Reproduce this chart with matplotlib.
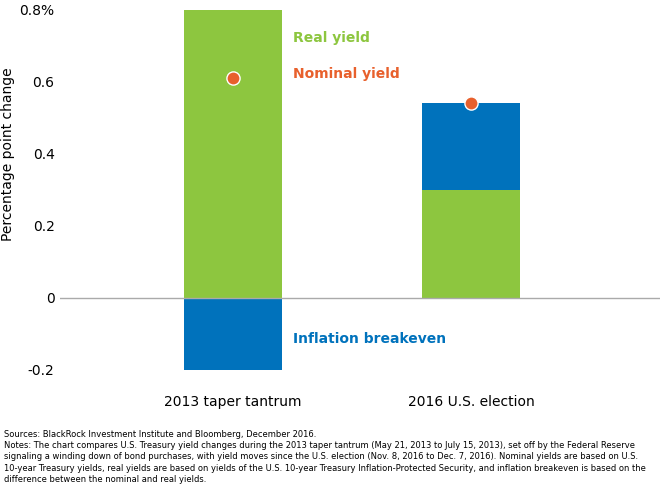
import matplotlib.pyplot as plt
import numpy as np

categories = ['2013 taper tantrum', '2016 U.S. election']
real_yield = [0.80, 0.30]
inflation = [-0.20, 0.24]
nominal = [0.61, 0.54]
yticks = [-0.2, 0, 0.2, 0.4, 0.6, 0.8]
ytick_labels = ['-0.2', '0', '0.2', '0.4', '0.6', '0.8%']

green = '#8DC63F'
blue = '#0072BC'
orange = '#E8602C'

fig = plt.figure(figsize=(6.6, 4.9), dpi=100)
ax = fig.add_axes([0.091, 0.245, 0.909, 0.735])
x = np.arange(len(categories))

# inflation stacks on real yield when positive, below zero otherwise
infl_bottom = [r if i > 0 else 0 for r, i in zip(real_yield, inflation)]
ax.bar(x, real_yield, width=0.41, color=green, zorder=2)
ax.bar(x, inflation, bottom=infl_bottom, width=0.41, color=blue, zorder=2)
ax.scatter(x, nominal, s=90, color=orange, edgecolor='white', linewidth=1, zorder=4)
ax.axhline(0, color='#aaaaaa', linewidth=1, zorder=3)

ax.set_xlim(-0.726, 1.793)
ax.set_ylim(-0.2, 0.8)
ax.set_yticks(yticks)
ax.set_yticklabels(ytick_labels, fontsize=10)
ax.set_xticks(x)
ax.set_xticklabels(categories, fontsize=10)
ax.tick_params(length=0, pad=18, axis='x')
ax.tick_params(length=0, pad=4, axis='y')
for s in ax.spines.values():
    s.set_visible(False)
ax.set_ylabel('Percentage point change', fontsize=10)
ax.yaxis.set_label_coords(-0.075, 0.6)

ax.text(0.252, 0.722, 'Real yield', color=green, fontweight='bold', fontsize=10, va='center')
ax.text(0.252, 0.622, 'Nominal yield', color=orange, fontweight='bold', fontsize=10, va='center')
ax.text(0.252, -0.114, 'Inflation breakeven', color=blue, fontweight='bold', fontsize=10, va='center')

notes = ('Sources: BlackRock Investment Institute and Bloomberg, December 2016.\n'
         'Notes: The chart compares U.S. Treasury yield changes during the 2013 taper tantrum (May 21, 2013 to July 15, 2013), set off by the Federal Reserve\n'
         'signaling a winding down of bond purchases, with yield moves since the U.S. election (Nov. 8, 2016 to Dec. 7, 2016). Nominal yields are based on U.S.\n'
         '10-year Treasury yields, real yields are based on yields of the U.S. 10-year Treasury Inflation-Protected Security, and inflation breakeven is based on the\n'
         'difference between the nominal and real yields.')
fig.text(0.006, 0.122, notes, fontsize=6.0, va='top', ha='left', linespacing=1.3)

fig.savefig('out.png', dpi=100)
